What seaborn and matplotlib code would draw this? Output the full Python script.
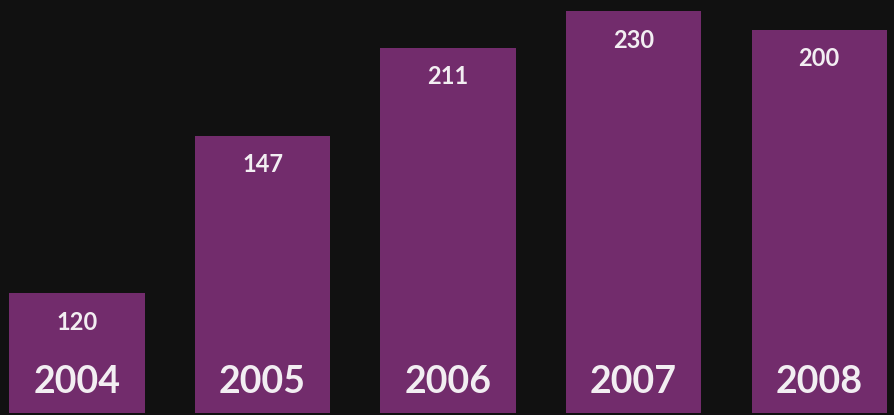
import matplotlib
matplotlib.use("Agg")
import matplotlib.pyplot as plt
import seaborn as sns
import pandas as pd

years = ["2004", "2005", "2006", "2007", "2008"]
value_labels = ["120", "147", "211", "230", "200"]
bar_heights = [120, 277, 365, 402, 383]

sns.set_theme(style="white")
plt.rcParams['font.family'] = ['Lato', 'DejaVu Sans']

bg = "#111111"
bar_color = "#722c6c"
txt = "#f2eef2"

fig = plt.figure(figsize=(8.94, 4.15), dpi=100)
fig.patch.set_facecolor(bg)
ax = fig.add_axes([0, 0, 1, 1])
ax.set_facecolor(bg)

df = pd.DataFrame({"year": years, "h": bar_heights})
sns.barplot(data=df, x="year", y="h", color=bar_color, saturation=1,
            width=0.728, ax=ax, edgecolor="none")

ax.set_xlim(-0.415, 4.404)
ax.set_ylim(-2, 413)
ax.axis("off")

for i, (yr, lab, h) in enumerate(zip(years, value_labels, bar_heights)):
    ax.text(i, h - 29, lab, ha="center", va="center", color=txt,
            fontsize=17, fontweight="bold")
    ax.text(i, 31, yr, ha="center", va="center", color=txt,
            fontsize=27, fontweight="bold")

fig.savefig("out.png", dpi=100, facecolor=bg)
